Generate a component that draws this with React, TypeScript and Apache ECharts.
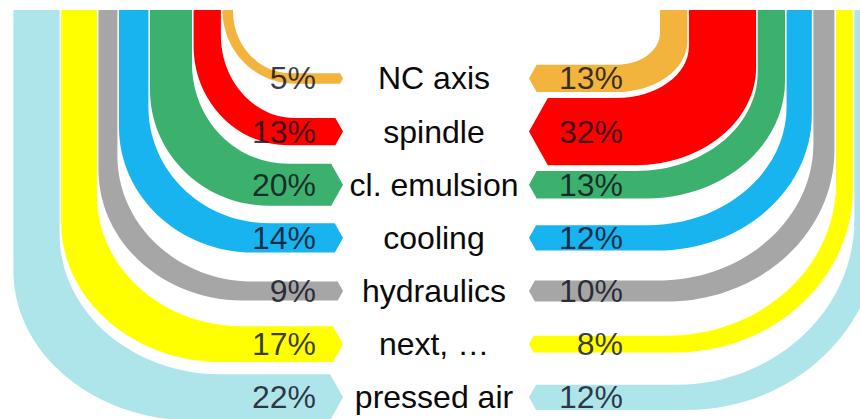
import React, { useEffect, useRef } from "react";
import * as echarts from "echarts";

// ---- data ----
const categories = ["NC axis", "spindle", "cl. emulsion", "cooling", "hydraulics", "next, …", "pressed air"];
const leftShares = [5, 13, 20, 14, 9, 17, 22];
const rightShares = [13, 32, 13, 12, 10, 8, 12];
const bandColors = ["#F2B43C", "#FF0000", "#3CB06D", "#17B4EF", "#A6A6A6", "#FFFF00", "#AEE5EA"];

// ---- layout ----
const PX_PER_PCT = 2.1;
const GAP = 1.6;
const TOP_Y = 10;
const KAPPA = 0.5523;

type Side = {
  dir: number;
  innerX: number;
  tipX: number;
  labelX: number;
  rx: (f: number) => number;
  ry: (f: number) => number;
};

const LEFT: Side = {
  dir: 1,
  innerX: 233,
  tipX: 343,
  labelX: 316,
  rx: (f) => 58 + 122 * Math.pow(f, 0.7),
  ry: (f) => 62 + 88 * Math.sqrt(f),
};
const RIGHT: Side = {
  dir: -1,
  innerX: 660,
  tipX: 529,
  labelX: 623,
  rx: (f) => 43 + 150 * Math.pow(f, 0.8),
  ry: (f) => 32 + 150 * f,
};

const pctFont = '32px "Liberation Sans", Arial, sans-serif';
const labelFont = '32px "Liberation Sans", Arial, sans-serif';

function makeBandRenderer(side: Side, shares: number[]) {
  const totalW = shares.reduce((a, b) => a + b, 0) * PX_PER_PCT + GAP * (shares.length - 1);
  return (params: any, api: any) => {
    const i = params.dataIndex;
    const row = api.value(0);
    const pct = api.value(1);
    const w = pct * PX_PER_PCT;
    let cum = 0;
    for (let j = 0; j < i; j++) cum += shares[j] * PX_PER_PCT + GAP;
    const yc = api.coord([0, row])[1];
    const d = side.dir;
    const xIn = side.innerX - d * cum;
    const xOut = xIn - d * w;
    const yT = yc - w / 2;
    const yB = yc + w / 2;
    const fIn = cum / totalW;
    const fOut = (cum + w) / totalW;
    const rxI = side.rx(fIn);
    const ryI = Math.min(side.ry(fIn), yT - TOP_Y);
    const rxO = side.rx(fOut);
    const ryO = Math.min(side.ry(fOut), yB - TOP_Y);
    const depth = Math.min(0.28 * w, 20);
    const back = side.tipX - d * depth;
    const k = KAPPA;
    const p = [
      `M${xIn},${TOP_Y}`,
      `L${xIn},${yT - ryI}`,
      `C${xIn},${yT - ryI * (1 - k)} ${xIn + d * rxI * (1 - k)},${yT} ${xIn + d * rxI},${yT}`,
      `L${back},${yT}`,
      `L${side.tipX},${yc}`,
      `L${back},${yB}`,
      `L${xOut + d * rxO},${yB}`,
      `C${xOut + d * rxO * (1 - k)},${yB} ${xOut},${yB - ryO * (1 - k)} ${xOut},${yB - ryO}`,
      `L${xOut},${TOP_Y}`,
      "Z",
    ].join(" ");
    return {
      type: "group",
      children: [
        {
          type: "path",
          shape: { pathData: p },
          style: { fill: bandColors[i], stroke: null },
        },
        {
          type: "text",
          x: side.labelX,
          y: yc,
          style: {
            text: `${pct}%`,
            font: pctFont,
            fill: "rgba(15,15,30,0.82)",
            align: "right",
            textAlign: "right",
            verticalAlign: "middle",
            textVerticalAlign: "middle",
          },
        },
      ],
    };
  };
}

function renderCategory(params: any, api: any) {
  const row = api.value(0);
  const yc = api.coord([0, row])[1];
  return {
    type: "text",
    x: 434,
    y: yc,
    style: {
      text: categories[params.dataIndex],
      font: labelFont,
      fill: "#0a0a0a",
      align: "center",
      textAlign: "center",
      verticalAlign: "middle",
      textVerticalAlign: "middle",
    },
  };
}

export default function App() {
  const ref = useRef<HTMLDivElement>(null);
  useEffect(() => {
    if (!ref.current) return;
    const chart = echarts.init(ref.current, null, { renderer: "svg" });
    chart.setOption({
      animation: false,
      backgroundColor: "#ffffff",
      grid: { left: 0, right: 0, top: 0, bottom: 0 },
      xAxis: { type: "value", min: 0, max: 860, show: false },
      yAxis: { type: "value", inverse: true, min: -1.475, max: 6.407, show: false },
      series: [
        {
          type: "custom",
          name: "left",
          renderItem: makeBandRenderer(LEFT, leftShares),
          data: leftShares.map((v, i) => [i, v]),
          silent: true,
        },
        {
          type: "custom",
          name: "right",
          renderItem: makeBandRenderer(RIGHT, rightShares),
          data: rightShares.map((v, i) => [i, v]),
          silent: true,
        },
        {
          type: "custom",
          name: "categories",
          renderItem: renderCategory,
          data: categories.map((c, i) => [i, 0]),
          silent: true,
        },
      ],
    });
    return () => chart.dispose();
  }, []);
  return (
    <div
      ref={ref}
      style={{ position: "fixed", left: 0, top: 0, width: "860px", height: "419px" }}
    />
  );
}
